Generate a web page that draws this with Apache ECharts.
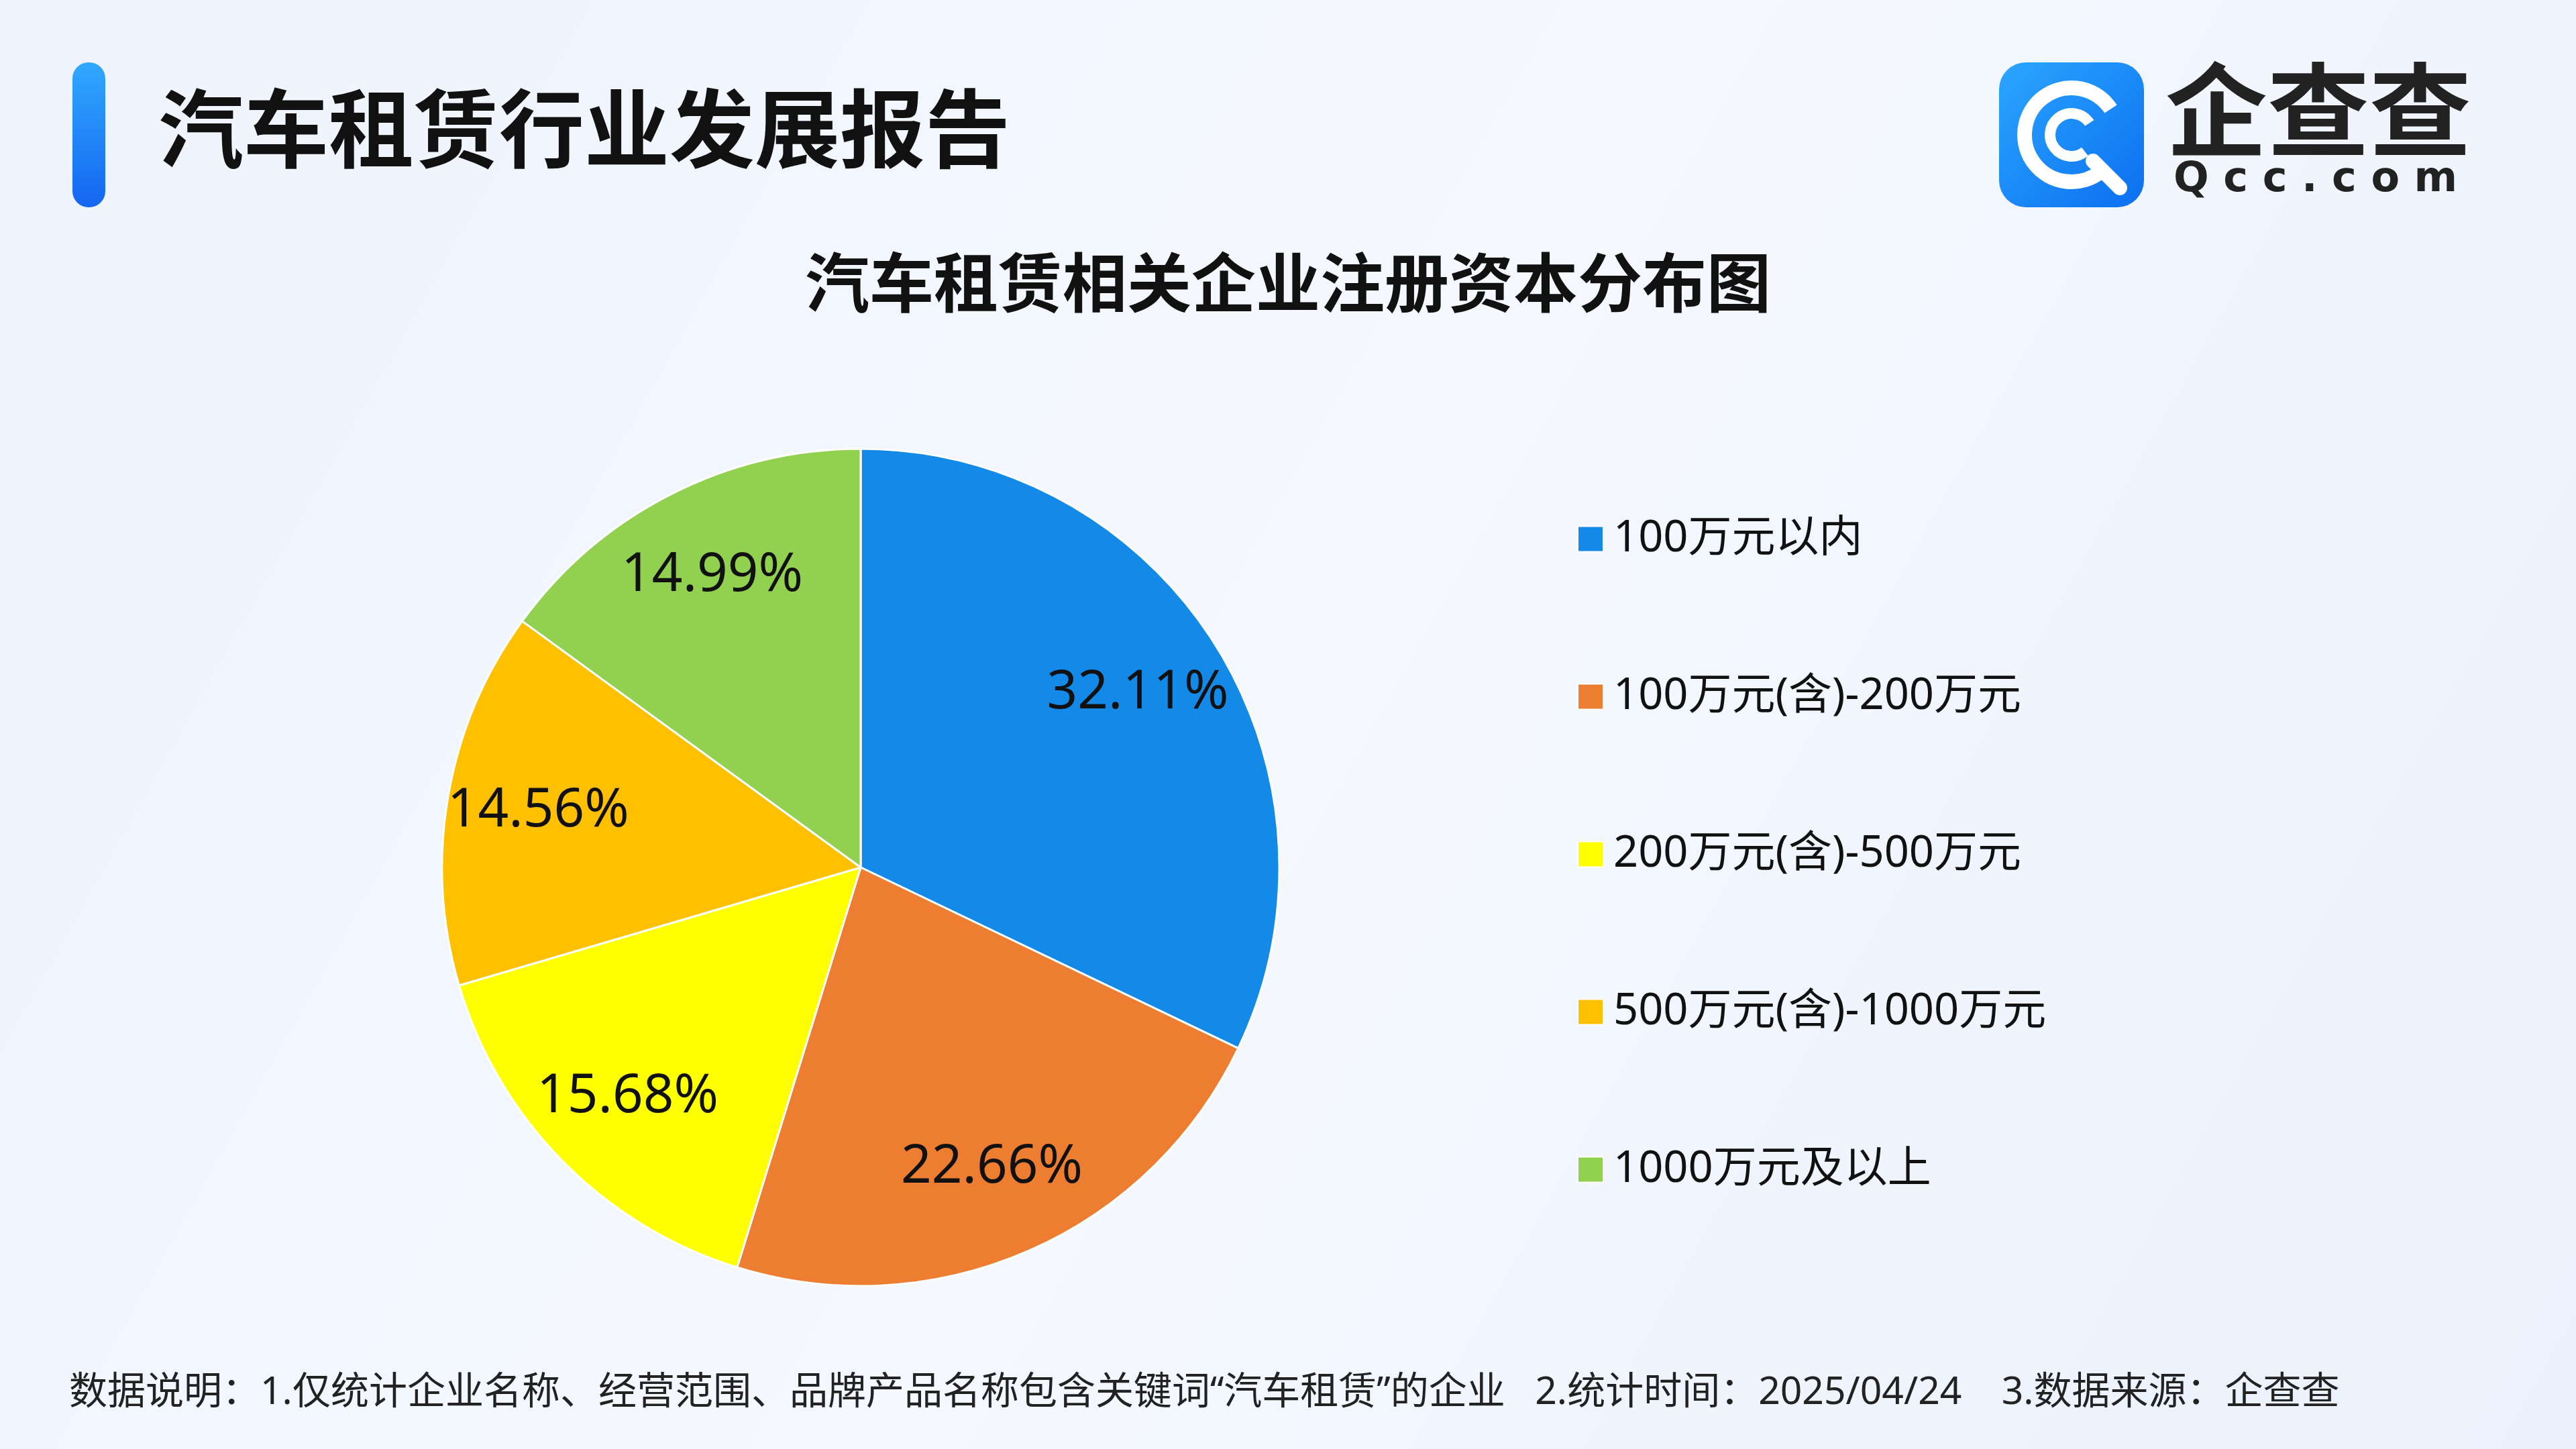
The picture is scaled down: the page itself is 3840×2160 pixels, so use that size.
<!DOCTYPE html>
<html><head><meta charset="utf-8">
<script src="https://cdn.jsdelivr.net/npm/echarts@6/dist/echarts.min.js"></script>
<style>html,body{margin:0;padding:0;}#c{width:3840px;height:2160px;}</style>
</head><body><div id="c"></div>
<script>
const categories = ['100万元以内','100万元(含)-200万元','200万元(含)-500万元','500万元(含)-1000万元','1000万元及以上'];
const shares = [32.11, 22.66, 15.68, 14.56, 14.99];
const colors = ['#1389E8','#ED7D31','#FFFF00','#FFC000','#92D050'];
const F = '"Noto Sans","Noto Sans CJK SC",sans-serif';
const FC = '"Noto Sans CJK SC","Noto Sans",sans-serif';
const chart = echarts.init(document.getElementById('c'));
const data = categories.map((n,i)=>({name:n,value:shares[i]}));
chart.setOption({
  backgroundColor: new echarts.graphic.LinearGradient(0,0,1,1,[{offset:0,color:'#eef3fd'},{offset:0.5,color:'#f5f8fe'},{offset:1,color:'#eaf1fc'}]),
  color: colors,
  title:{text:'汽车租赁相关企业注册资本分布图',left:'center',top:368,textStyle:{fontFamily:FC,fontSize:96,fontWeight:'bold',color:'#111'}},
  legend:{orient:'vertical',left:2346,top:766,itemWidth:38,itemHeight:38,itemGap:170,icon:'rect',
    textStyle:{fontFamily:F,fontSize:65,color:'#111',padding:[0,0,0,10]},data:categories},
  series:[
    {type:'pie',center:[1283,1293],radius:[0,624],startAngle:90,clockwise:true,data:data,
     itemStyle:{borderColor:'#fff',borderWidth:3},label:{show:false},labelLine:{show:false},silent:true},
    {type:'pie',center:[1283,1293],radius:[0,970],startAngle:90,clockwise:true,data:data,
     itemStyle:{color:'rgba(0,0,0,0)'},silent:true,legendHoverLink:false,
     label:{show:true,position:'inside',formatter:p=>p.value.toFixed(2)+'%',fontFamily:F,fontSize:80,color:'#111'},labelLine:{show:false}}
  ],
  graphic:[
    {type:'rect',shape:{x:108,y:93,width:49,height:216,r:24},style:{fill:new echarts.graphic.LinearGradient(0,0,0,1,[{offset:0,color:'#31a8ff'},{offset:1,color:'#1466f0'}])}},
    {type:'text',left:236,top:128,style:{text:'汽车租赁行业发展报告',font:'bold 127px '+FC,fill:'#111'}},
    {type:'rect',shape:{x:2980,y:93,width:216,height:216,r:40},style:{fill:new echarts.graphic.LinearGradient(0,0,1,1,[{offset:0,color:'#2aa6ff'},{offset:1,color:'#0c6ff0'}])}},
    {type:'arc',shape:{cx:3088,cy:201,r:70,startAngle:0.9,endAngle:5.7},style:{stroke:'#fff',lineWidth:22,fill:null}},
    {type:'arc',shape:{cx:3088,cy:201,r:32,startAngle:0.9,endAngle:5.7},style:{stroke:'#fff',lineWidth:16,fill:null}},
    {type:'line',shape:{x1:3120,y1:240,x2:3160,y2:280},style:{stroke:'#fff',lineWidth:22,lineCap:'round'}},
    {type:'text',left:3228,top:88,style:{text:'企查查',font:'bold 152px '+FC,fill:'#222'}},
    {type:'text',left:3240,top:238,style:{text:'Q c c . c o m',font:'bold 62px "DejaVu Sans",sans-serif',fill:'#222'}},
    {type:'text',left:103,top:2048,style:{text:'数据说明：1.仅统计企业名称、经营范围、品牌产品名称包含关键词“汽车租赁”的企业   2.统计时间：2025/04/24    3.数据来源：企查查',font:'57px '+F,fill:'#222'}}
  ]
});
</script></body></html>
